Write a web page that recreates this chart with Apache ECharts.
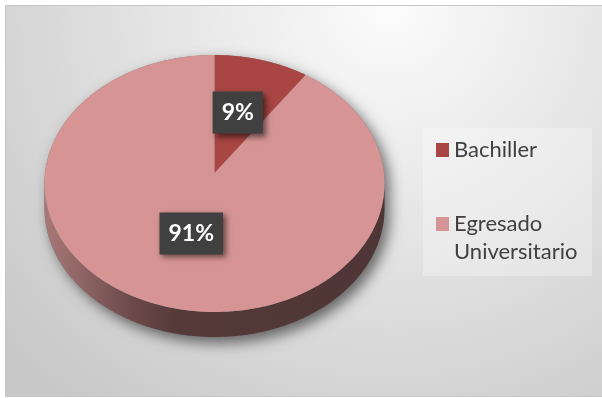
<!DOCTYPE html>
<html>
<head>
<meta charset="utf-8">
<style>
  html, body { margin: 0; padding: 0; background: #fff; }
  #chart { width: 602px; height: 398px; }
</style>
<script src="https://cdn.jsdelivr.net/npm/echarts@6/dist/echarts.min.js"></script>
</head>
<body>
<div id="chart"></div>
<script>
// Nivel de formación
const categories = ['Bachiller', 'Egresado Universitario'];
const values = [9, 91];

const palette = ['#A94542', '#D69594'];

// Geometry of the tilted pie (top face ellipse, apex and wall depth)
const CX = 214.5, CY = 183.5, RX = 170, RY = 128.5;
const APEX = [214.5, 173];
const DEPTH = 25;

const total = values.reduce((a, b) => a + b, 0);
const startAngles = values.map((v, i) => values.slice(0, i).reduce((a, b) => a + b, 0) / total * 360);
const endAngles = values.map((v, i) => startAngles[i] + v / total * 360);
const percentLabels = values.map(v => Math.round(v / total * 100) + '%');

function rad(d) { return d * Math.PI / 180; }
function topPt(a, dy) {
  return [CX + RX * Math.sin(rad(a)), CY - RY * Math.cos(rad(a)) + (dy || 0)];
}
function arc(a0, a1, dy) {
  const pts = [];
  const n = Math.max(2, Math.ceil(Math.abs(a1 - a0)));
  for (let k = 0; k <= n; k++) pts.push(topPt(a0 + (a1 - a0) * k / n, dy));
  return pts;
}

// Outline of the whole disc, used only to cast the soft shadow
const outline = arc(90, 270, DEPTH).concat(arc(270, 450, 0));

const chart = echarts.init(document.getElementById('chart'), null, { renderer: 'canvas' });

const sideGradient = {
  type: 'linear', global: true, x: CX - RX, y: 0, x2: CX + RX, y2: 0,
  colorStops: [
    { offset: 0, color: '#a87878' },
    { offset: 0.25, color: '#6e4b4b' },
    { offset: 0.38, color: '#563a3a' },
    { offset: 1, color: '#4f3535' }
  ]
};

// Two-line legend entries keep their first line level with the swatch
function legendText(name) {
  return name.indexOf(' ') >= 0 ? ' \n' + name.replace(' ', '\n') : name;
}

chart.setOption({
  backgroundColor: '#ffffff',
  animation: false,
  graphic: [
    {
      type: 'rect', z: 0,
      shape: { x: 5.5, y: 5.5, width: 600, height: 391 },
      style: {
        fill: {
          type: 'radial', x: 0.64, y: 0.0, r: 1.3,
          colorStops: [
            { offset: 0, color: '#fcfcfc' },
            { offset: 1, color: '#c8c8c8' }
          ]
        },
        stroke: '#c6c6c6', lineWidth: 1
      }
    },
    {
      type: 'rect', z: 1,
      shape: { x: 423, y: 128, width: 169, height: 148 },
      style: { fill: 'rgba(255,255,255,0.28)' }
    },
    {
      type: 'polygon', z: 1,
      shape: { points: outline },
      style: {
        fill: '#777',
        shadowBlur: 14, shadowColor: 'rgba(0,0,0,0.55)',
        shadowOffsetX: 5, shadowOffsetY: 6
      }
    }
  ],
  legend: {
    orient: 'vertical',
    left: 436,
    top: 136,
    padding: 0,
    itemWidth: 13,
    itemHeight: 14,
    itemGap: 18,
    icon: 'rect',
    selectedMode: false,
    formatter: legendText,
    textStyle: { fontFamily: 'Lato', fontSize: 22, color: '#404040', lineHeight: 28 },
    data: categories
  },
  series: [
    {
      // carries the category colours for the legend
      type: 'pie',
      name: 'Formación',
      radius: [0, 0],
      silent: true,
      label: { show: false },
      labelLine: { show: false },
      data: categories.map((c, i) => ({ name: c, value: values[i], itemStyle: { color: palette[i] } }))
    },
    {
      // front wall of each slice
      type: 'custom',
      coordinateSystem: 'none',
      silent: true,
      z: 2,
      data: values,
      renderItem: function (params) {
        const i = params.dataIndex;
        const s = Math.max(startAngles[i], 90);
        const e = Math.min(endAngles[i], 270);
        if (e <= s) return { type: 'group', children: [] };
        const pts = arc(s, e, 0).concat(arc(e, s, DEPTH));
        return { type: 'polygon', shape: { points: pts }, style: { fill: sideGradient } };
      }
    },
    {
      // top face of each slice
      type: 'custom',
      coordinateSystem: 'none',
      silent: true,
      z: 3,
      data: values,
      renderItem: function (params) {
        const i = params.dataIndex;
        const pts = [APEX].concat(arc(startAngles[i], endAngles[i], 0));
        return { type: 'polygon', shape: { points: pts }, style: { fill: palette[i] } };
      }
    },
    {
      // percentage labels
      type: 'custom',
      coordinateSystem: 'none',
      silent: true,
      z: 5,
      data: values,
      renderItem: function (params) {
        const i = params.dataIndex;
        const mid = (startAngles[i] + endAngles[i]) / 2;
        const f = 0.49;
        const x = APEX[0] + f * RX * Math.sin(rad(mid));
        const y = APEX[1] - f * RY * Math.cos(rad(mid));
        return {
          type: 'text',
          x: x, y: y,
          style: {
            text: percentLabels[i],
            fill: '#ffffff',
            font: 'bold 23px Lato',
            align: 'center',
            verticalAlign: 'middle',
            lineHeight: 26,
            backgroundColor: '#404040',
            padding: [8, 9, 8, 9],
            shadowBlur: 6,
            shadowColor: 'rgba(0,0,0,0.55)',
            shadowOffsetX: 3,
            shadowOffsetY: 3
          }
        };
      }
    }
  ]
});
</script>
</body>
</html>
